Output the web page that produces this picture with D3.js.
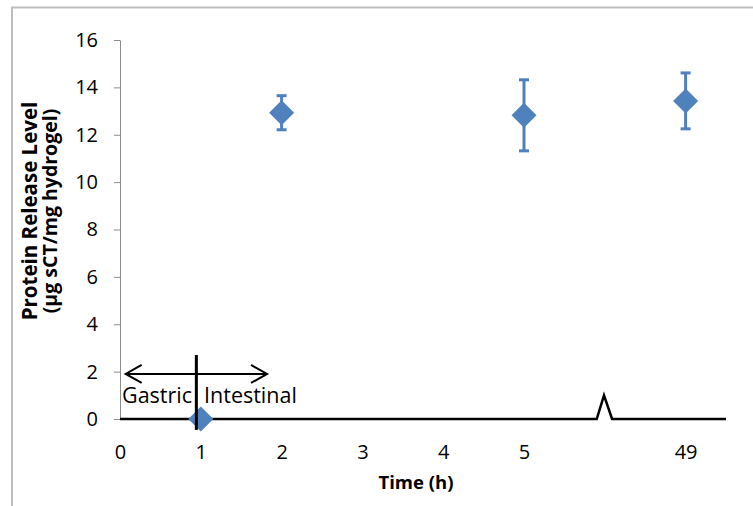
<!DOCTYPE html>
<html>
<head>
<meta charset="utf-8">
<script src="https://cdn.jsdelivr.net/npm/d3@7"></script>
<style>
  html, body { margin: 0; padding: 0; background: #fff; }
  svg { display: block; font-family: "Open Sans", sans-serif; }
</style>
</head>
<body>
<svg width="753" height="506"></svg>
<script>
// x axis categories (slot 6 is the axis break, it has no label)
const tickLabels = ["0", "1", "2", "3", "4", "5", "", "49"];
const yTicks = [0, 2, 4, 6, 8, 10, 12, 14, 16];

// measured points: category slot, mean, +/- error
const slots = [1, 2, 5, 7];
const means = [0, 12.93, 12.82, 13.43];
const errors = [0, 0.72, 1.5, 1.18];

const svg = d3.select("svg");
const blue = "#4F81BD";
const font = "'Open Sans', sans-serif";

// outer chart frame
svg.append("path")
  .attr("d", "M12,506 V7.5 H753")
  .attr("fill", "none")
  .attr("stroke", "#bdbdbd")
  .attr("stroke-width", 2);

const x = d3.scaleLinear().domain([0, 7.5]).range([120, 726]);
const y = d3.scaleLinear().domain([0, 16]).range([419, 40]);

// y axis, thin grey
const yAxis = svg.append("g")
  .attr("transform", `translate(${x(0)},0)`)
  .call(d3.axisLeft(y).tickValues(yTicks).tickSize(6).tickPadding(16).tickSizeOuter(0));
yAxis.attr("font-family", font).attr("font-size", 20);
yAxis.select(".domain").attr("stroke", "#8c8c8c");
yAxis.selectAll(".tick line").attr("stroke", "#8c8c8c");
yAxis.selectAll("text").style("font-size", "20px").attr("fill", "#000");

// x axis labels only, the line itself is drawn below with the break mark
const xAxis = svg.append("g")
  .attr("transform", `translate(0,${y(0)})`)
  .call(d3.axisBottom(x).tickValues(d3.range(tickLabels.length))
    .tickFormat(i => tickLabels[i]).tickSize(0).tickPadding(26));
xAxis.attr("font-family", font).attr("font-size", 20);
xAxis.select(".domain").remove();
xAxis.selectAll("text").style("font-size", "20px").attr("fill", "#000");

// thick baseline with the break symbol at slot 6
const brk = 6;
svg.append("path")
  .attr("d", d3.line()([
    [x(0), y(0)], [x(brk - 0.1), y(0)], [x(brk - 0.01), y(1)],
    [x(brk + 0.09), y(0)], [x(7.5), y(0)]
  ]))
  .attr("fill", "none")
  .attr("stroke", "#000")
  .attr("stroke-width", 2.5);

// error bars
const pts = slots.map((s, i) => ({ s, m: means[i], e: errors[i] }));
const eb = svg.append("g").attr("stroke", blue).attr("stroke-width", 3);
pts.filter(d => d.e > 0).forEach(d => {
  eb.append("line").attr("x1", x(d.s)).attr("x2", x(d.s))
    .attr("y1", y(d.m - d.e)).attr("y2", y(d.m + d.e));
  [d.m - d.e, d.m + d.e].forEach(v => {
    eb.append("line").attr("x1", x(d.s) - 5).attr("x2", x(d.s) + 5)
      .attr("y1", y(v)).attr("y2", y(v));
  });
});

// diamond markers
svg.append("g").selectAll("path")
  .data(pts)
  .join("path")
  .attr("d", "M0,-12.5L12.5,0L0,12.5L-12.5,0Z")
  .attr("transform", d => `translate(${x(d.s)},${y(d.m)})`)
  .attr("fill", blue);

// Gastric / Intestinal annotation
const ann = svg.append("g").attr("stroke", "#000").attr("fill", "none");
ann.append("line")
  .attr("x1", x(0.945)).attr("x2", x(0.945))
  .attr("y1", y(2.7)).attr("y2", y(-0.46))
  .attr("stroke-width", 3);
const ay = y(1.9), ax0 = x(0.07), ax1 = x(1.82);
ann.append("line").attr("x1", ax0).attr("x2", ax1).attr("y1", ay).attr("y2", ay)
  .attr("stroke-width", 2);
ann.append("path")
  .attr("d", `M${ax0 + 16},${ay - 9}L${ax0},${ay}L${ax0 + 16},${ay + 9}` +
             `M${ax1 - 16},${ay - 9}L${ax1},${ay}L${ax1 - 16},${ay + 9}`)
  .attr("stroke-width", 2);

svg.append("text").attr("x", x(0.025)).attr("y", y(0.68))
  .attr("font-size", 21.5).text("Gastric");
svg.append("text").attr("x", x(1.04)).attr("y", y(0.68))
  .attr("font-size", 21.5).text("Intestinal");

// axis titles
svg.append("text")
  .attr("x", 416).attr("y", 489)
  .attr("text-anchor", "middle").attr("font-size", 18.5).attr("font-weight", "bold")
  .text("Time (h)");

const yt = svg.append("text")
  .attr("transform", "translate(0,211) rotate(-90)")
  .attr("text-anchor", "middle").attr("font-weight", "bold");
yt.append("tspan").attr("x", 0).attr("y", 37).attr("font-size", 20.5).text("Protein Release Level");
yt.append("tspan").attr("x", 0).attr("y", 57).attr("font-size", 19.5).text("(µg sCT/mg hydrogel)");
</script>
</body>
</html>
